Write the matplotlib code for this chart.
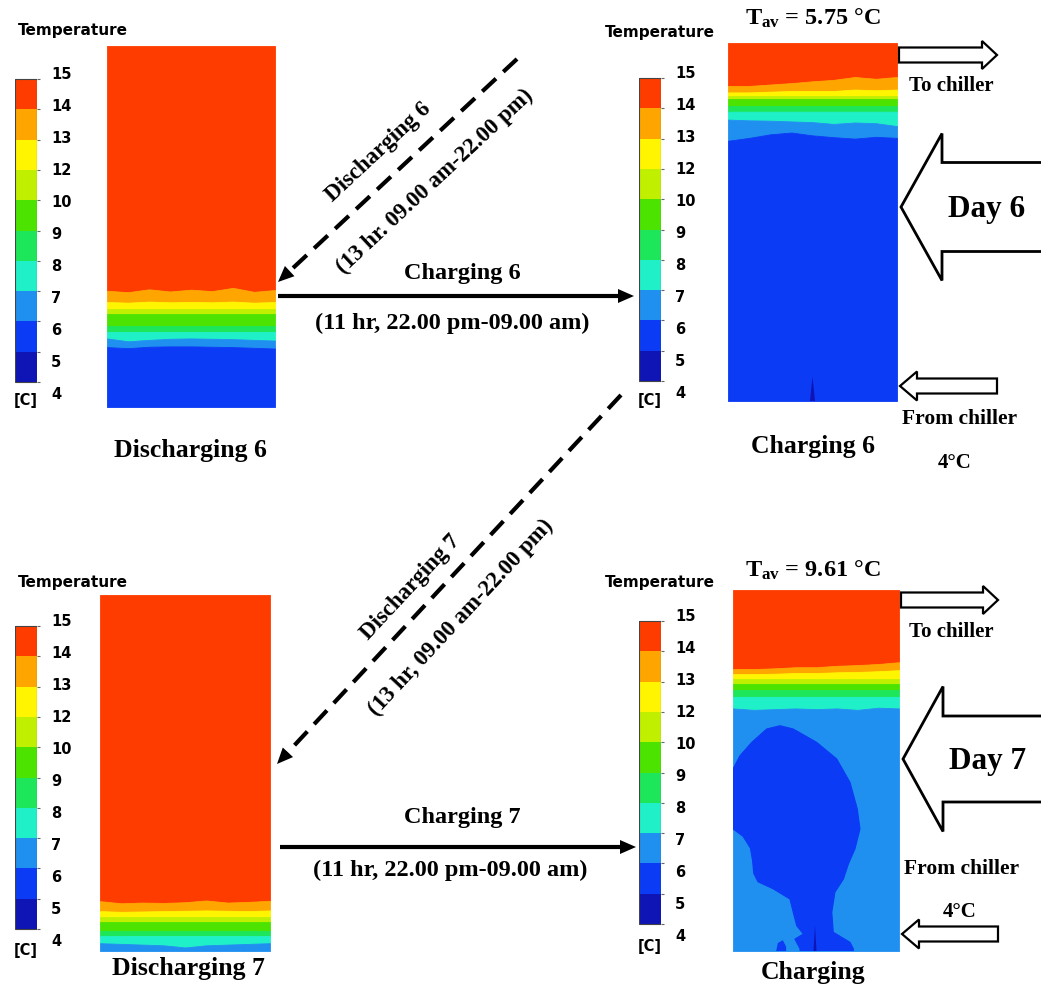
import numpy as np
import matplotlib.pyplot as plt
from matplotlib.patches import Polygon, Rectangle

W, H = 1041, 987

plt.rcParams['mathtext.fontset'] = 'custom'
plt.rcParams['mathtext.rm'] = 'Liberation Serif:bold'
plt.rcParams['mathtext.it'] = 'Liberation Serif:italic:bold'
plt.rcParams['mathtext.bf'] = 'Liberation Serif:bold'

# colour scale, bottom (4 C) to top (15 C)
band_colors = ['#0F14B4', '#0B3BF5', '#2090F0', '#20F0C8', '#1EE65A',
               '#4CE300', '#C0F000', '#FFF500', '#FFA500', '#FF3C00']
cbar_labels = ['4', '5', '6', '7', '8', '9', '10', '12', '13', '14', '15']
RED, ORG, YEL, YG, GRN, GRN2, AQU, LBL, BLU, DBL = band_colors[::-1]

# tank contours: interfaces as fraction of tank height (0 = bottom), top to bottom
xs = np.linspace(0, 1, 9)

dis6_colors = [RED, ORG, YEL, YG, GRN, GRN2, AQU, LBL, BLU]
dis6_levels = [
    [0.322, 0.318, 0.326, 0.320, 0.325, 0.321, 0.330, 0.319, 0.324],
    [0.291, 0.289, 0.292, 0.290, 0.291, 0.290, 0.292, 0.289, 0.291],
    0.271, 0.258, 0.224, 0.208,
    [0.190, 0.182, 0.186, 0.189, 0.190, 0.189, 0.188, 0.186, 0.184],
    [0.166, 0.163, 0.167, 0.168, 0.168, 0.167, 0.166, 0.164, 0.162],
]

chg6_colors = [RED, ORG, YEL, YG, GRN, GRN2, AQU, LBL, BLU]
chg6_levels = [
    [0.880, 0.880, 0.884, 0.888, 0.893, 0.897, 0.905, 0.900, 0.905],
    [0.862, 0.862, 0.864, 0.866, 0.866, 0.866, 0.870, 0.868, 0.870],
    0.852, 0.843, 0.824, 0.808,
    [0.786, 0.784, 0.783, 0.781, 0.779, 0.774, 0.778, 0.776, 0.768],
    [0.727, 0.735, 0.745, 0.750, 0.742, 0.737, 0.733, 0.738, 0.735],
]
chg6_spike_x = [0.485, 0.500, 0.515]
chg6_spike_y = [0.0, 0.068, 0.0]

dis7_colors = [RED, ORG, YEL, YG, GRN, GRN2, AQU, LBL]
dis7_levels = [
    [0.140, 0.134, 0.136, 0.135, 0.137, 0.142, 0.136, 0.138, 0.141],
    [0.112, 0.110, 0.111, 0.112, 0.113, 0.114, 0.113, 0.112, 0.114],
    0.096, 0.081, 0.056, 0.042,
    [0.022, 0.020, 0.018, 0.016, 0.010, 0.016, 0.018, 0.020, 0.022],
]

chg7_colors = [RED, ORG, YEL, YG, GRN, GRN2, AQU, LBL]
chg7_levels = [
    [0.781, 0.781, 0.783, 0.786, 0.786, 0.790, 0.792, 0.795, 0.800],
    [0.767, 0.767, 0.768, 0.770, 0.770, 0.772, 0.773, 0.775, 0.778],
    0.753, 0.740, 0.722, 0.704,
    [0.672, 0.668, 0.670, 0.672, 0.670, 0.672, 0.668, 0.674, 0.672],
]
plume_x = [0.283, 0.363, 0.504, 0.625, 0.705, 0.749, 0.765, 0.735, 0.695, 0.665,
           0.614, 0.595, 0.604, 0.705, 0.725, 0.725, 0.404, 0.404, 0.373, 0.424,
           0.384, 0.363, 0.343, 0.243, 0.150, 0.125, 0.118, 0.105, 0.060, 0.0, 0.0,
           0.042, 0.113, 0.203]
plume_y = [0.624, 0.615, 0.578, 0.532, 0.467, 0.393, 0.338, 0.283, 0.241, 0.199,
           0.163, 0.107, 0.052, 0.024, 0.006, 0.0, 0.0, 0.006, 0.033, 0.047,
           0.070, 0.107, 0.144, 0.172, 0.192, 0.215, 0.250, 0.285, 0.318, 0.338, 0.504,
           0.541, 0.578, 0.615]
blob_x = [0.26, 0.27, 0.30, 0.32, 0.32]
blob_y = [0.0, 0.022, 0.030, 0.012, 0.0]
chg7_spike_x = [0.485, 0.494, 0.503]
chg7_spike_y = [0.0, 0.07, 0.0]

fig = plt.figure(figsize=(W / 100, H / 100), dpi=100)
fig.patch.set_facecolor('white')


def px_axes(x0, y0, x1, y1):
    return fig.add_axes([x0 / W, 1 - y1 / H, (x1 - x0) / W, (y1 - y0) / H])


def draw_tank(box, levels, colors):
    axp = px_axes(*box)
    axp.set_xlim(0, 1)
    axp.set_ylim(0, 1)
    axp.axis('off')
    tops = [np.ones_like(xs)] + [np.broadcast_to(np.asarray(v, float), xs.shape) for v in levels]
    bots = tops[1:] + [np.zeros_like(xs)]
    for top, bot, c in zip(tops, bots, colors):
        axp.fill_between(xs, bot, top, color=c, lw=0.6, edgecolor=c)
    return axp


def draw_cbar(x0, y0, x1, y1):
    unit = (y1 - y0) / 10
    cax = px_axes(x0, y0 - 7, x1, y1 + 10)
    cax.bar(0.5, 1, bottom=np.arange(10), width=1, color=band_colors, lw=0)
    cax.add_patch(Rectangle((0, 0), 1, 10, fill=False, ec='#444444', lw=0.8))
    cax.set_xlim(0, 1)
    cax.set_ylim(-10 / unit, 10 + 7 / unit)
    for s in cax.spines.values():
        s.set_visible(False)
    cax.xaxis.set_visible(False)
    cax.yaxis.tick_right()
    cax.set_yticks(np.linspace(-10 / unit, 10 + 7 / unit, 11), cbar_labels)
    cax.set_yticks(np.arange(11), minor=True)
    cax.tick_params(axis='y', which='major', length=0, pad=10)
    cax.tick_params(axis='y', which='minor', length=2.5, color='#666666', width=0.8)
    for t in cax.get_yticklabels():
        t.set_fontweight('bold')
        t.set_fontsize(10.5)
    return cax


ax1 = draw_tank((107, 47, 275, 408), dis6_levels, dis6_colors)
ax2 = draw_tank((728, 44, 897, 402), chg6_levels, chg6_colors)
ax2.fill(chg6_spike_x, chg6_spike_y, color=DBL, lw=0)
ax3 = draw_tank((100, 596, 270, 952), dis7_levels, dis7_colors)
ax4 = draw_tank((733, 591, 899, 952), chg7_levels, chg7_colors)
ax4.fill(plume_x, plume_y, color=BLU, lw=0.8, ec=BLU)
ax4.fill(blob_x, blob_y, color=BLU, lw=0)
ax4.fill(chg7_spike_x, chg7_spike_y, color=DBL, lw=0)

draw_cbar(15, 80, 37, 383)
draw_cbar(639, 79, 661, 382)
draw_cbar(15, 627, 37, 930)
draw_cbar(639, 622, 661, 925)

# overlay in pixel coordinates for labels and arrows
ax = fig.add_axes([0, 0, 1, 1])
ax.set_xlim(0, W)
ax.set_ylim(H, 0)
ax.axis('off')
ax.set_zorder(10)
ax.patch.set_visible(False)

sans = dict(family='DejaVu Sans', weight='bold')
serif = dict(family='Liberation Serif', weight='bold')

for x, y in [(18, 31), (605, 33), (18, 582), (605, 583)]:
    ax.text(x, y, 'Temperature', fontsize=11, ha='left', va='center', **sans)
for x, y in [(26, 401), (650, 401), (26, 950), (650, 947)]:
    ax.text(x, y, '[C]', fontsize=10.5, ha='center', va='center', **sans)

ax.text(190, 450, 'Discharging 6', fontsize=18.5, ha='center', va='center', **serif)
ax.text(813, 447, 'Charging 6', fontsize=18.5, ha='center', va='center', **serif)
ax.text(188, 968, 'Discharging 7', fontsize=18.5, ha='center', va='center', **serif)
ax.text(813, 973, 'Charging', fontsize=18.5, ha='center', va='center', **serif)

ax.text(813, 18, r'$\mathrm{T}_{\mathrm{av}}$ = 5.75 °C', fontsize=17.5, ha='center', va='center', **serif)
ax.text(813, 570, r'$\mathrm{T}_{\mathrm{av}}$ = 9.61 °C', fontsize=17.5, ha='center', va='center', **serif)

ax.text(951, 86, 'To chiller', fontsize=15, ha='center', va='center', **serif)
ax.text(960, 419, 'From chiller', fontsize=15.5, ha='center', va='center', **serif)
ax.text(955, 463, '4°C', fontsize=15, ha='center', va='center', **serif)
ax.text(951, 632, 'To chiller', fontsize=15, ha='center', va='center', **serif)
ax.text(962, 869, 'From chiller', fontsize=15.5, ha='center', va='center', **serif)
ax.text(960, 912, '4°C', fontsize=15, ha='center', va='center', **serif)

ax.text(462, 273, 'Charging 6', fontsize=17.5, ha='center', va='center', **serif)
ax.text(452, 323, '(11 hr, 22.00 pm-09.00 am)', fontsize=17.5, ha='center', va='center', **serif)
ax.text(462, 817, 'Charging 7', fontsize=17.5, ha='center', va='center', **serif)
ax.text(450, 870, '(11 hr, 22.00 pm-09.00 am)', fontsize=17.5, ha='center', va='center', **serif)

ax.text(378, 152, 'Discharging 6', fontsize=16.5, rotation=43, rotation_mode='anchor',
        ha='center', va='center', **serif)
ax.text(435, 182, '(13 hr. 09.00 am-22.00 pm)', fontsize=16.5, rotation=43, rotation_mode='anchor',
        ha='center', va='center', **serif)
ax.text(410, 587, 'Discharging 7', fontsize=16.5, rotation=47, rotation_mode='anchor',
        ha='center', va='center', **serif)
ax.text(461, 618, '(13 hr, 09.00 am-22.00 pm)', fontsize=16.5, rotation=47, rotation_mode='anchor',
        ha='center', va='center', **serif)


def line_arrow(start, tip, dashed=False, head_len=16, head_w=7):
    s = np.array(start, float)
    t = np.array(tip, float)
    d = (t - s) / np.hypot(*(t - s))
    n = np.array([-d[1], d[0]])
    base = t - head_len * d
    ls = (0, (4.5, 2.4)) if dashed else '-'
    ax.plot([s[0], base[0] + 2 * d[0]], [s[1], base[1] + 2 * d[1]], color='black', lw=3, ls=ls,
            solid_capstyle='butt', dash_capstyle='butt')
    ax.add_patch(Polygon([t, base + head_w * n, base - head_w * n], closed=True, color='black', lw=0))


line_arrow((517, 60), (278, 283), dashed=True)
line_arrow((621, 396), (277, 765), dashed=True)
line_arrow((278, 297), (634, 297))
line_arrow((280, 848), (636, 848))


def hollow_arrow(tip_x, cy, tail_x, shaft_h, head_h, head_len, lw=1.6):
    sgn = 1 if tail_x > tip_x else -1
    base_x = tip_x + sgn * head_len
    pts = [(tip_x, cy), (base_x, cy - head_h), (base_x, cy - shaft_h), (tail_x, cy - shaft_h),
           (tail_x, cy + shaft_h), (base_x, cy + shaft_h), (base_x, cy + head_h)]
    ax.add_patch(Polygon(pts, closed=True, fc='white', ec='black', lw=lw))


hollow_arrow(997, 56, 899, 7.5, 14, 15)
hollow_arrow(900, 387, 997, 7.5, 14.5, 17)
hollow_arrow(998, 601, 901, 7.5, 14, 15)
hollow_arrow(902, 935, 998, 7.5, 14.5, 17)
hollow_arrow(901, 208, 1080, 44.5, 73.5, 41, lw=2)
hollow_arrow(903, 760, 1080, 43, 72.5, 40, lw=2)

ax.text(987, 210, 'Day 6', fontsize=22.5, ha='center', va='center', **serif)
ax.text(988, 761, 'Day 7', fontsize=22.5, ha='center', va='center', **serif)

fig.savefig('out.png', dpi=100, facecolor='white')
